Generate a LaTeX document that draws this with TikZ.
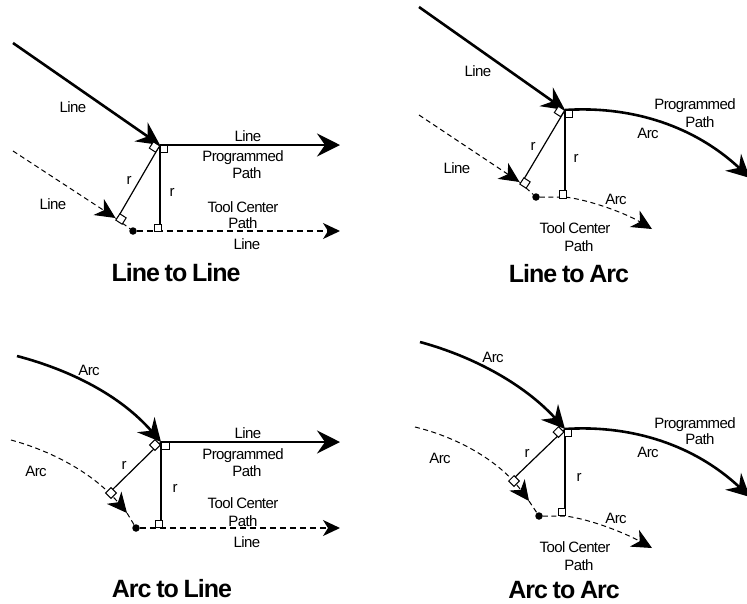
\documentclass[tikz,border=0pt]{standalone}
\usepackage{fontspec}
\setmainfont[LetterSpace=-4,WordSpace=0.8]{Liberation Sans}
\usetikzlibrary{arrows.meta}
\tikzset{
  progpath/.style={line width=2.6pt,-{Stealth[length=23pt,width=23pt,inset=8pt]}},
  toolpath/.style={line width=1.4pt,dash pattern=on 6pt off 4pt,-{Stealth[length=17pt,width=16pt,inset=5pt]}},
  toolarc/.style={line width=1pt,dash pattern=on 5pt off 3.5pt,-{Stealth[length=20pt,width=19pt,inset=6pt]}},
  toolend/.style={line width=1pt,dash pattern=on 5pt off 3.5pt},
  radius/.style={line width=1.2pt},
  sq/.style={draw,fill=white,line width=1pt,minimum size=7.5pt,inner sep=0pt},
  dot/.style={circle,fill=black,minimum size=7.5pt,inner sep=0pt},
  lbl/.style={font=\fontsize{15}{17}\selectfont,inner sep=0pt,text height=12pt,text depth=2pt},
  caption/.style={font=\fontsize{25}{27}\selectfont\bfseries,inner sep=0pt,text height=18pt,text depth=0pt}
}
\begin{document}
\begin{tikzpicture}[x=1pt,y=-1pt]
    \clip (0,0) rectangle (747,603);

    % line to line
    \coordinate (A1) at (13,43);
    \coordinate (A2) at (160,145);
    \coordinate (A3) at (340,145);
    \coordinate (A4) at (13,151);
    \coordinate (A5) at (115.5,218);
    \coordinate (A6) at (117,219);
    \coordinate (A7) at (160,231);
    \coordinate (A8) at (340,231);
    \node[dot] (Ad) at (133,231) {};
    \draw[progpath] (A1) -- (A2);
    \draw[progpath] (A2) -- (A3);
    \draw[toolarc] (A4) -- (A5);
    \draw[toolend] (A5) -- (Ad);
    \draw[toolpath] (Ad) -- (A8);
    \draw[radius] (A2) -- (A6);
    \draw[radius] (A2) -- (A7);
    \node[sq] (As1) at (164,149) {};
    \node[sq] (As2) at (158,228) {};
    \node[sq,rotate=-33] (As3) at (154.5,147) {};
    \node[sq,rotate=-33] (As4) at (121,219) {};
    \node[lbl] (At1) at (73,107) {Line};
    \node[lbl] (At2) at (248,136) {Line};
    \node[lbl] (At3) at (243,156) {Programmed};
    \node[lbl] (At4) at (247,173) {Path};
    \node[lbl] (At5) at (129,179) {r};
    \node[lbl] (At6) at (172,191) {r};
    \node[lbl] (At7) at (53,204) {Line};
    \node[lbl] (At8) at (243,207) {Tool Center};
    \node[lbl] (At9) at (243,223) {Path};
    \node[lbl] (At10) at (247,244) {Line};
    \node[caption] (Acap) at (176,272) {Line to Line};

    % line to arc
    \coordinate (B1) at (419,7);
    \coordinate (B2) at (565,110);
    \coordinate (B3) at (750,178);
    \coordinate (B4) at (419,115);
    \coordinate (B5) at (519.5,182);
    \coordinate (B6) at (521,184);
    \coordinate (B7) at (565,197);
    \coordinate (B8) at (652,229);
    \node[dot] (Bd) at (536,197) {};
    \draw[progpath] (B1) -- (B2);
    \draw[progpath] (B2) .. controls (625,106) and (690,122) .. (B3);
    \draw[toolarc] (B4) -- (B5);
    \draw[toolend] (B5) -- (Bd);
    \draw[toolarc] (Bd) -- (B7) .. controls (590,200) and (625,213) .. (B8);
    \draw[radius] (B2) -- (B6);
    \draw[radius] (B2) -- (B7);
    \node[sq] (Bs1) at (569,114) {};
    \node[sq] (Bs2) at (563,194.5) {};
    \node[sq,rotate=-33] (Bs3) at (559.5,111.5) {};
    \node[sq,rotate=-33] (Bs4) at (525,183) {};
    \node[lbl] (Bt1) at (478,71) {Line};
    \node[lbl] (Bt2) at (695,104) {Programmed};
    \node[lbl] (Bt3) at (700,122) {Path};
    \node[lbl] (Bt4) at (648,133) {Arc};
    \node[lbl] (Bt5) at (533,145) {r};
    \node[lbl] (Bt6) at (576,157) {r};
    \node[lbl] (Bt7) at (457,168) {Line};
    \node[lbl] (Bt8) at (616,199) {Arc};
    \node[lbl] (Bt9) at (575,228) {Tool Center};
    \node[lbl] (Bt10) at (579,246) {Path};
    \node[caption] (Bcap) at (569,273) {Line to Arc};

    % arc to line
    \coordinate (C1) at (17,356);
    \coordinate (C2) at (161,442);
    \coordinate (C3) at (340,442);
    \coordinate (C4) at (11,440);
    \coordinate (C5) at (127,513);
    \coordinate (C6) at (108,494);
    \coordinate (C7) at (161,528);
    \coordinate (C8) at (340,528);
    \node[dot] (Cd) at (136,528) {};
    \draw[progpath] (C1) .. controls (70,370) and (120,395) .. (C2);
    \draw[progpath] (C2) -- (C3);
    \draw[toolarc] (C4) .. controls (55,452) and (95,475) .. (C5);
    \draw[toolend] (C5) -- (Cd);
    \draw[toolpath] (Cd) -- (C8);
    \draw[radius] (C2) -- (C6);
    \draw[radius] (C2) -- (C7);
    \node[sq] (Cs1) at (165.5,446) {};
    \node[sq] (Cs2) at (159,524) {};
    \node[sq,rotate=-45] (Cs3) at (155,445) {};
    \node[sq,rotate=-45] (Cs4) at (111,493) {};
    \node[lbl] (Ct1) at (89,370) {Arc};
    \node[lbl] (Ct2) at (248,433) {Line};
    \node[lbl] (Ct3) at (243,454) {Programmed};
    \node[lbl] (Ct4) at (247,471) {Path};
    \node[lbl] (Ct5) at (124,464) {r};
    \node[lbl] (Ct6) at (175,487) {r};
    \node[lbl] (Ct7) at (36,471) {Arc};
    \node[lbl] (Ct8) at (243,503) {Tool Center};
    \node[lbl] (Ct9) at (243,521) {Path};
    \node[lbl] (Ct10) at (247,542) {Line};
    \node[caption] (Ccap) at (172,588) {Arc to Line};

    % arc to arc
    \coordinate (D1) at (420,342);
    \coordinate (D2) at (565,429);
    \coordinate (D3) at (750,497);
    \coordinate (D4) at (415,427);
    \coordinate (D5) at (529,501);
    \coordinate (D6) at (512,480);
    \coordinate (D7) at (565,516);
    \coordinate (D8) at (652,548);
    \node[dot] (Dd) at (539,516) {};
    \draw[progpath] (D1) .. controls (475,357) and (525,385) .. (D2);
    \draw[progpath] (D2) .. controls (625,425) and (690,441) .. (D3);
    \draw[toolarc] (D4) .. controls (460,438) and (500,462) .. (D5);
    \draw[toolend] (D5) -- (Dd);
    \draw[toolarc] (Dd) -- (D7) .. controls (590,519) and (625,533) .. (D8);
    \draw[radius] (D2) -- (D6);
    \draw[radius] (D2) -- (D7);
    \node[sq] (Ds1) at (568,433) {};
    \node[sq] (Ds2) at (562,512) {};
    \node[sq,rotate=-45] (Ds3) at (558.5,432) {};
    \node[sq,rotate=-45] (Ds4) at (514,481) {};
    \node[lbl] (Dt1) at (493,357) {Arc};
    \node[lbl] (Dt2) at (695,423) {Programmed};
    \node[lbl] (Dt3) at (700,439) {Path};
    \node[lbl] (Dt4) at (648,452) {Arc};
    \node[lbl] (Dt5) at (527,452) {r};
    \node[lbl] (Dt6) at (579,476) {r};
    \node[lbl] (Dt7) at (440,458) {Arc};
    \node[lbl] (Dt8) at (616,518) {Arc};
    \node[lbl] (Dt9) at (575,547) {Tool Center};
    \node[lbl] (Dt10) at (579,565) {Path};
    \node[caption] (Dcap) at (564,589) {Arc to Arc};
\end{tikzpicture}
\end{document}
